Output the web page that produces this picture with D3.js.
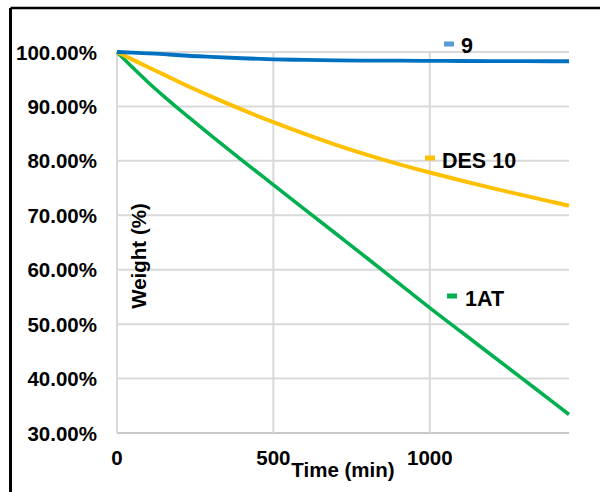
<!DOCTYPE html>
<html><head><meta charset="utf-8">
<script src="https://cdn.jsdelivr.net/npm/d3@7"></script>
<style>body{margin:0;background:#fff}svg{display:block}text{font-family:"Liberation Sans",Arial,sans-serif;font-weight:bold;fill:#000}</style>
</head><body>
<svg id="c" width="600" height="492"></svg>
<script>
const times = [0,50,100,150,200,300,400,500,600,700,800,900,1000,1100,1200,1300,1400,1445];
const s9    = [1.0,0.999,0.9975,0.996,0.994,0.991,0.9885,0.9865,0.9855,0.9845,0.984,0.984,0.9838,0.9835,0.9833,0.9832,0.983,0.983];
const des10 = [1.0,0.986,0.972,0.9585,0.9445,0.9185,0.894,0.871,0.8495,0.8295,0.811,0.794,0.7785,0.764,0.750,0.7365,0.7235,0.7177];
const at1   = [1.0,0.9715,0.944,0.9185,0.894,0.847,0.801,0.756,0.711,0.666,0.621,0.5755,0.530,0.486,0.442,0.398,0.354,0.334];
const xTicks = [0,500,1000];
const yTicks = [0.3,0.4,0.5,0.6,0.7,0.8,0.9,1.0];
const seriesNames = ["9","DES 10","1AT"];
const lineColors = ["#0070C0","#FFC000","#00B050"];
const markerColors = ["#5B9BD5","#FFC000","#00B050"];

const svg = d3.select("#c");
const x = d3.scaleLinear().domain([0,1445]).range([117,569]);
const y = d3.scaleLinear().domain([0.3,1.0]).range([433,52]);

// border (top & left)
svg.append("line").attr("x1",10.5).attr("x2",600).attr("y1",8).attr("y2",8).attr("stroke","#000").attr("stroke-width",2.5);
svg.append("line").attr("x1",10.5).attr("x2",10.5).attr("y1",8).attr("y2",492).attr("stroke","#000").attr("stroke-width",3);

// gridlines
svg.append("g").selectAll("line").data(yTicks).join("line")
  .attr("x1",x(0)).attr("x2",x(1445)).attr("y1",d=>y(d)).attr("y2",d=>y(d))
  .attr("stroke",d=>d===0.3?"#c8c8c8":"#d9d9d9").attr("stroke-width",2);
svg.append("g").selectAll("line").data(xTicks).join("line")
  .attr("x1",d=>x(d)).attr("x2",d=>x(d)).attr("y1",y(0.3)).attr("y2",y(1.0))
  .attr("stroke","#d9d9d9").attr("stroke-width",2);

// axes labels
const fmt = d3.format(".2%");
svg.append("g").selectAll("text").data(yTicks).join("text")
  .attr("x",97).attr("y",d=>y(d)+7.5).attr("text-anchor","end").attr("font-size",20.5).text(d=>fmt(d));
svg.append("g").selectAll("text").data(xTicks).join("text")
  .attr("x",d=>x(d)).attr("y",465).attr("text-anchor","middle").attr("font-size",20.5).text(d=>d);

svg.append("text").attr("x",343).attr("y",477).attr("text-anchor","middle").attr("font-size",20.5).text("Time (min)");
svg.append("text").attr("transform","translate(146,256) rotate(-90)").attr("text-anchor","middle").attr("font-size",20.5).text("Weight (%)");

// lines
const data = [s9,des10,at1];
const widths = [3.8,4,3.6];
const line = d3.line().x((d,i)=>x(times[i])).y(d=>y(d)).curve(d3.curveMonotoneX);
[2,1,0].forEach(k=>{
  svg.append("path").datum(data[k]).attr("d",line).attr("fill","none")
    .attr("stroke",lineColors[k]).attr("stroke-width",widths[k]).attr("stroke-linejoin","round");
});

// legend-like labels
const labelPos = [{mx:444,my:44,tx:461,ty:53},{mx:425,my:158,tx:442,ty:168},{mx:447,my:296,tx:465,ty:306}];
seriesNames.forEach((n,k)=>{
  const p = labelPos[k];
  svg.append("rect").attr("x",p.mx).attr("y",p.my-2.5).attr("width",10).attr("height",5).attr("fill",markerColors[k]);
  svg.append("text").attr("x",p.tx).attr("y",p.ty).attr("font-size",21.5).text(n);
});
</script>
</body></html>
